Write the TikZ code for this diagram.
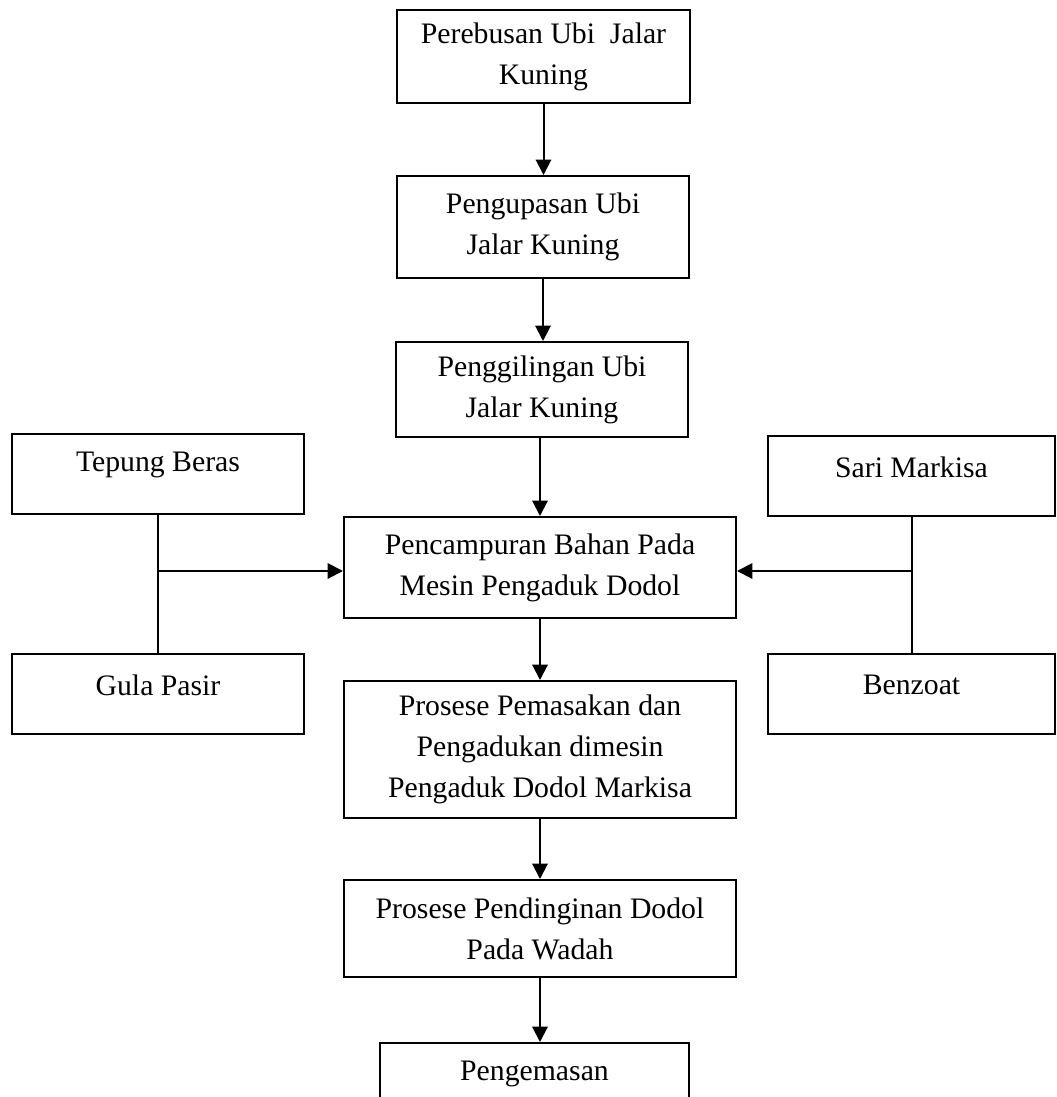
\documentclass[tikz,border=0pt]{standalone}
\usepackage{fontspec}
\setmainfont{Liberation Serif}
\usetikzlibrary{arrows.meta,calc}
\begin{document}
\begin{tikzpicture}[x=0.75pt,y=-0.75pt,
  box/.style={draw,line width=1.5pt,rectangle,inner sep=0pt,align=center,
    font=\fontsize{22.3}{30.75}\selectfont},
  lbl/.style={inner sep=0pt,align=center,font=\fontsize{22.3}{30.75}\selectfont},
  conn/.style={line width=1.5pt},
  arr/.style={line width=1.5pt,-{Triangle[width=11.5pt,length=11.5pt]}}]
\useasboundingbox (0,0) rectangle (1057,1097);
\clip (0,0) rectangle (1057,1097);
% main column
\node[box,minimum width=293*0.75pt,minimum height=93*0.75pt] (b1) at (543.5,56.5) {Perebusan Ubi\ \ Jalar\\Kuning};
\node[box,minimum width=292*0.75pt,minimum height=102*0.75pt] (b2) at (543,227) {Pengupasan Ubi\\Jalar Kuning};
\node[box,minimum width=292*0.75pt,minimum height=95*0.75pt] (b3) at (542,389.5) {Penggilingan Ubi\\Jalar Kuning};
\node[box,minimum width=392*0.75pt,minimum height=101*0.75pt] (b4) at (540,567.5) {Pencampuran Bahan Pada\\Mesin Pengaduk Dodol};
\node[box,minimum width=392*0.75pt,minimum height=137*0.75pt] (b5) at (540,749.5) {Prosese Pemasakan dan\\Pengadukan dimesin\\Pengaduk Dodol Markisa};
\node[box,minimum width=392*0.75pt,minimum height=97*0.75pt] (b6) at (540,928.5) {Prosese Pendinginan Dodol\\Pada Wadah};
\node[box,minimum width=309*0.75pt,minimum height=80*0.75pt] (b7) at (534.5,1083) {};
\node[lbl] (t7) at ($(b7.north)+(0,32)$) {Pengemasan};
% side boxes
\node[box,minimum width=292*0.75pt,minimum height=80*0.75pt] (tb) at (158,474) {};
\node[lbl] (ttb) at ($(tb.north)+(0,32)$) {Tepung Beras};
\node[box,minimum width=292*0.75pt,minimum height=80*0.75pt] (gp) at (158,694) {};
\node[lbl] (tgp) at ($(gp.north)+(0,32)$) {Gula Pasir};
\node[box,minimum width=287*0.75pt,minimum height=80*0.75pt] (sm) at (911.5,476) {};
\node[lbl] (tsm) at ($(sm.north)+(0,32)$) {Sari Markisa};
\node[box,minimum width=287*0.75pt,minimum height=80*0.75pt] (bz) at (911.5,694) {};
\node[lbl] (tbz) at ($(bz.north)+(0,32)$) {Benzoat};
% connectors
\draw[arr] (b1.south) -- (b1.south |- b2.north);
\draw[arr] (b2.south) -- (b2.south |- b3.north);
\draw[arr] (b4.north |- b3.south) -- (b4.north);
\draw[arr] (b4.south) -- (b5.north);
\draw[arr] (b5.south) -- (b6.north);
\draw[arr] (b6.south) -- (b6.south |- b7.north);
\coordinate (jl) at (tb.south |- 0,571);
\coordinate (jr) at (sm.south |- 0,571);
\draw[conn] (tb.south) -- (gp.north);
\draw[conn] (sm.south) -- (bz.north);
\draw[arr] (jl) -- (jl -| b4.west);
\draw[arr] (jr) -- (jr -| b4.east);
\end{tikzpicture}
\end{document}
